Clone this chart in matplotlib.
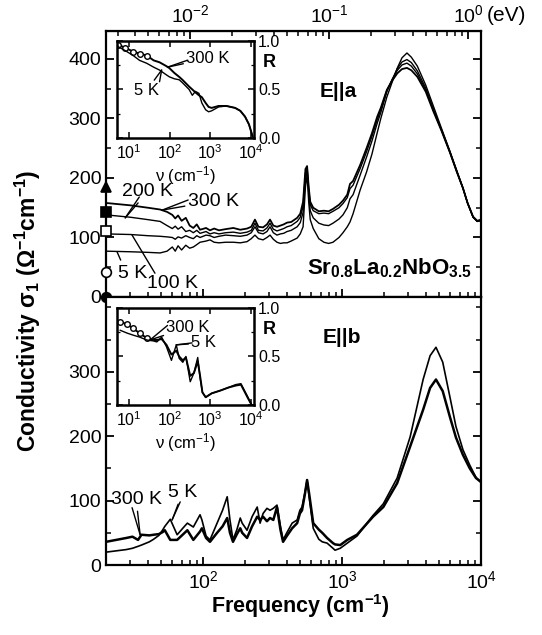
"""Optical conductivity of Sr0.8La0.2NbO3.5 for E||a and E||b, with reflectivity insets."""
import matplotlib
matplotlib.use("Agg")
import matplotlib.pyplot as plt
import numpy as np
from matplotlib.ticker import LogLocator, MultipleLocator, NullFormatter, FixedLocator

plt.rcParams['font.family'] = ['Liberation Sans', 'DejaVu Sans']
plt.rcParams['mathtext.default'] = 'regular'

# ---- E||a conductivity (cm^-1, Ohm^-1 cm^-1) ----
freq_a = [20, 30, 40, 49, 55, 60, 63, 66, 70, 75, 80, 85, 90, 95, 105, 112, 120, 130,
          145, 165, 185, 207, 222, 236, 250, 270, 288, 303, 320, 340, 360, 380, 402,
          430, 475, 500, 524, 545, 560, 575, 590, 620, 680, 740, 800, 860, 950, 1015,
          1090, 1140, 1200, 1350, 1500, 1640, 1790, 1900, 2100, 2300, 2500, 2700, 2930,
          3150, 3480, 4000, 4520, 5200, 5970, 6700, 7410, 8000, 8770, 9400, 10000]
sig_a_300 = [158, 154, 150, 147, 143, 138, 132, 137, 128, 133, 120, 116, 122, 113, 116,
             112, 115, 112, 114, 116, 113, 115, 118, 130, 118, 117, 122, 130, 120, 118,
             120, 122, 125, 126, 133, 140, 160, 215, 220, 185, 160, 150, 144, 145, 144,
             148, 155, 162, 172, 190, 195, 222, 250, 275, 303, 318, 348, 364, 376, 383,
             385, 381, 370, 345, 313, 279, 243, 210, 183, 158, 135, 128, 130]
sig_a_200 = [138, 134, 130, 127, 120, 115, 119, 114, 118, 110, 112, 108, 112, 107, 110,
             106, 108, 106, 108, 109, 107, 109, 112, 124, 112, 111, 116, 124, 114, 111,
             113, 115, 118, 120, 127, 134, 153, 208, 218, 182, 155, 145, 140, 141, 140,
             144, 150, 157, 167, 182, 188, 216, 244, 270, 298, 315, 347, 366, 381, 390,
             393, 388, 375, 348, 315, 280, 243, 210, 183, 158, 134, 127, 130]
sig_a_100 = [106, 105, 103, 102, 101, 100, 97, 101, 99, 103, 100, 98, 103, 100, 104,
             103, 100, 102, 104, 103, 102, 104, 108, 118, 108, 106, 110, 118, 108, 104,
             106, 107, 110, 112, 118, 125, 142, 200, 212, 175, 145, 133, 124, 121, 120,
             124, 131, 138, 150, 165, 172, 205, 235, 262, 292, 310, 345, 366, 384, 395,
             399, 394, 380, 351, 317, 281, 244, 211, 183, 158, 134, 127, 129]
sig_a_5 = [77, 76, 75, 74, 77, 84, 77, 86, 79, 87, 82, 84, 88, 92, 94, 96, 92, 91, 92,
           92, 91, 93, 98, 104, 98, 96, 100, 104, 97, 92, 90, 91, 91, 94, 99, 106, 118,
           185, 205, 160, 130, 115, 98, 92, 90, 92, 100, 108, 118, 126, 140, 180, 210,
           240, 276, 300, 336, 362, 385, 402, 410, 403, 388, 356, 322, 283, 245, 212,
           183, 158, 134, 127, 128]
# dc values shown on the left axis
dc_values = [185, 143, 111, 42, 0]
dc_markers = ['^', 's', 's', 'o', 'o']
dc_faces = ['black', 'black', 'white', 'white', 'black']

# ---- E||b conductivity ----
freq_b = [20, 28, 31, 34, 36, 41, 44, 48, 51, 53, 58, 65, 72, 77, 85, 95, 98, 105, 112,
          126, 138, 149, 156, 164, 175, 185, 191, 207, 225, 245, 257, 270, 288, 303, 320,
          340, 360, 376, 400, 437, 475, 497, 515, 540, 560, 580, 620, 680, 720, 780, 860,
          890, 970, 1090, 1280, 1670, 1980, 2490, 3090, 3830, 4300, 4740, 5300, 5970,
          6600, 7410, 8300, 9200, 10000]
sig_b_300 = [36, 42, 44, 39, 47, 46, 47, 48, 51, 54, 39, 39, 48, 54, 39, 52, 57, 42, 36,
             50, 60, 73, 50, 36, 48, 57, 50, 42, 60, 75, 70, 75, 68, 73, 70, 90, 55, 36,
             45, 57, 65, 80, 85, 110, 132, 110, 65, 55, 50, 42, 34, 32, 31, 39, 47, 75,
             90, 127, 184, 241, 275, 288, 270, 230, 198, 171, 150, 135, 129]
sig_b_5 = [20, 24, 26, 29, 31, 36, 40, 46, 54, 60, 71, 47, 58, 65, 59, 78, 70, 45, 39,
           65, 85, 106, 70, 39, 55, 73, 65, 54, 75, 90, 65, 80, 88, 85, 88, 93, 60, 39,
           50, 65, 70, 85, 90, 112, 132, 105, 57, 40, 36, 34, 26, 23, 26, 34, 45, 77, 95,
           135, 199, 288, 325, 338, 315, 261, 215, 179, 155, 136, 128]

# ---- reflectivity insets ----
nu_ra = [5.4, 8, 12.5, 18, 27, 40, 56, 83, 98, 130, 171, 205, 300, 360, 430, 525, 620,
         770, 910, 1080, 1600, 2500, 4100, 5500, 7200, 9000, 11000]
r_a_300 = [0.96, 0.93, 0.89, 0.87, 0.85, 0.80, 0.78, 0.74, 0.72, 0.67, 0.63, 0.60, 0.53,
           0.50, 0.47, 0.44, 0.42, 0.36, 0.32, 0.31, 0.33, 0.33, 0.31, 0.28, 0.22, 0.14,
           0.02]
r_a_5 = [0.94, 0.90, 0.85, 0.80, 0.77, 0.73, 0.70, 0.65, 0.63, 0.61, 0.60, 0.57, 0.50,
         0.44, 0.48, 0.46, 0.36, 0.29, 0.27, 0.28, 0.32, 0.33, 0.31, 0.28, 0.22, 0.14,
         0.02]
nu_rb = [6, 9, 12.5, 18, 27, 40, 48, 63, 83, 110, 145, 171, 210, 250, 320, 395, 490, 560,
         640, 770, 1080, 1800, 2800, 4200, 5700, 8500, 10500]
r_b_300 = [0.86, 0.83, 0.79, 0.74, 0.69, 0.67, 0.67, 0.68, 0.62, 0.52, 0.56, 0.50, 0.46,
           0.49, 0.30, 0.33, 0.45, 0.30, 0.13, 0.08, 0.12, 0.15, 0.18, 0.20, 0.21, 0.07,
           0.0]
r_b_5 = [0.77, 0.74, 0.72, 0.70, 0.67, 0.66, 0.65, 0.70, 0.60, 0.46, 0.62, 0.48, 0.44,
         0.50, 0.24, 0.33, 0.49, 0.28, 0.13, 0.08, 0.12, 0.15, 0.18, 0.21, 0.22, 0.08, 0.0]

CM_PER_EV = 8065.54
LW_SPINE = 1.6


def style_main(ax, ymax, yticks):
    ax.set_xscale('log')
    ax.set_xlim(20, 1e4)
    ax.set_ylim(0, ymax)
    ax.yaxis.set_major_locator(FixedLocator(yticks))
    ax.yaxis.set_minor_locator(MultipleLocator(50))
    ax.xaxis.set_major_locator(FixedLocator([100, 1000, 10000]))
    ax.xaxis.set_minor_locator(LogLocator(base=10, subs=np.arange(2, 10)))
    ax.xaxis.set_minor_formatter(NullFormatter())
    ax.set_xticklabels([r'10$^2$', r'10$^3$', r'10$^4$'])
    ax.tick_params(which='both', direction='in', right=True, labelsize=14)
    ax.tick_params(which='major', length=6, width=1.3)
    ax.tick_params(which='minor', length=3.5, width=1.1)
    for s in ax.spines.values():
        s.set_linewidth(LW_SPINE)


def style_inset(ax):
    ax.set_xscale('log')
    ax.set_xlim(5, 1.2e4)
    ax.set_ylim(0, 1.0)
    ax.xaxis.set_major_locator(FixedLocator([10, 100, 1000, 10000]))
    ax.xaxis.set_minor_locator(LogLocator(base=10, subs=np.arange(2, 10)))
    ax.xaxis.set_minor_formatter(NullFormatter())
    ax.set_xticklabels([r'10$^1$', r'10$^2$', r'10$^3$', r'10$^4$'])
    ax.yaxis.set_major_locator(FixedLocator([0, 0.5, 1.0]))
    ax.yaxis.set_minor_locator(MultipleLocator(0.25))
    ax.set_yticklabels(['0.0', '0.5', '1.0'])
    ax.yaxis.tick_right()
    ax.tick_params(which='both', direction='in', left=True, right=True, top=True,
                   labelsize=11.5)
    ax.tick_params(axis='x', pad=4)
    ax.tick_params(axis='y', pad=3)
    ax.tick_params(which='major', length=4, width=1.1)
    ax.tick_params(which='minor', length=2, width=0.9)
    for s in ax.spines.values():
        s.set_linewidth(1.8)
    ax.set_xlabel(r'$\nu$ (cm$^{-1}$)', fontsize=12, labelpad=1)
    ax.text(1.06, 0.78, 'R', transform=ax.transAxes, fontsize=13, fontweight='bold',
            ha='left', va='center')


fig = plt.figure(figsize=(5.42, 6.35), dpi=100)
ax_a = fig.add_axes([0.1956, 0.5323, 0.6919, 0.4189])
ax_b = fig.add_axes([0.1956, 0.1102, 0.6919, 0.4220])

# ---- panel E||a ----
style_main(ax_a, 447, [0, 100, 200, 300, 400])
ax_a.tick_params(which='both', top=False, labelbottom=False)
ax_a.plot(freq_a, sig_a_300, color='black', lw=1.3)
ax_a.plot(freq_a, sig_a_200, color='black', lw=1.0)
ax_a.plot(freq_a, sig_a_100, color='black', lw=1.0)
ax_a.plot(freq_a, sig_a_5, color='black', lw=1.0)
for val, mk, fc in zip(dc_values, dc_markers, dc_faces):
    ax_a.plot([20], [val], marker=mk, ms=7, mfc=fc, mec='black', mew=1.2,
              clip_on=False, zorder=5)

ev_ax = ax_a.secondary_xaxis('top', functions=(lambda x: x / CM_PER_EV,
                                               lambda e: e * CM_PER_EV))
ev_ax.xaxis.set_major_locator(FixedLocator([1e-2, 1e-1, 1e0]))
ev_ax.xaxis.set_minor_locator(LogLocator(base=10, subs=np.arange(2, 10)))
ev_ax.xaxis.set_minor_formatter(NullFormatter())
ev_ax.set_xticklabels([r'10$^{-2}$', r'10$^{-1}$', r'10$^0$'])
ev_ax.tick_params(which='both', direction='in', labelsize=14)
ev_ax.tick_params(which='major', length=6, width=1.3)
ev_ax.tick_params(which='minor', length=3.5, width=1.1)
fig.text(0.935, 0.976, '(eV)', fontsize=15, ha='center', va='center')

kw_lead = dict(arrowprops=dict(arrowstyle='-', lw=1.0, color='black',
                               shrinkA=0, shrinkB=0),
               fontsize=14, ha='center', va='center')
ax_a.annotate('200 K', xy=(27.5, 133), xytext=(40, 177), **kw_lead)
ax_a.annotate('', xy=(27.5, 133), xytext=(34.7, 168), **kw_lead)
ax_a.annotate('300 K', xy=(50.7, 146), xytext=(118, 161), **kw_lead)
ax_a.annotate('', xy=(50.7, 146), xytext=(78, 163), **kw_lead)
ax_a.text(31.3, 40, '5 K', fontsize=14, ha='center', va='center')
ax_a.annotate('', xy=(24, 76), xytext=(25.5, 62), **kw_lead)
ax_a.text(60, 23, '100 K', fontsize=14, ha='center', va='center')
ax_a.annotate('', xy=(30.8, 104), xytext=(45, 40), **kw_lead)

ax_a.text(690, 345, 'E||a', fontsize=15, fontweight='bold', ha='left', va='center')
ax_a.text(560, 38, r'Sr$_{0.8}$La$_{0.2}$NbO$_{3.5}$', fontsize=16, fontweight='bold',
          ha='left', va='baseline')

# ---- panel E||b ----
style_main(ax_b, 416, [0, 100, 200, 300])
ax_b.plot(freq_b, sig_b_300, color='black', lw=1.8)
ax_b.plot(freq_b, sig_b_5, color='black', lw=1.2)
ax_b.annotate('300 K', xy=(35.2, 47), xytext=(33, 101), **kw_lead)
ax_b.annotate('', xy=(35.2, 47), xytext=(30.8, 89), **kw_lead)
ax_b.annotate('5 K', xy=(59.8, 70), xytext=(71, 112), **kw_lead)
ax_b.annotate('', xy=(59.8, 70), xytext=(68.4, 98), **kw_lead)
ax_b.text(720, 353, 'E||b', fontsize=15, fontweight='bold', ha='left', va='center')

# ---- insets ----
in_a = fig.add_axes([0.2159, 0.7827, 0.2528, 0.1528])
style_inset(in_a)
in_a.plot(nu_ra, r_a_300, color='black', lw=1.4, marker='o', ms=4, mfc='white',
          markevery=[0, 1, 2, 3, 4])
in_a.plot(nu_ra, r_a_5, color='black', lw=1.0)
kw_in = dict(arrowprops=dict(arrowstyle='-', lw=1.0, color='black',
                             shrinkA=0, shrinkB=0),
             fontsize=12, ha='center', va='center')
in_a.annotate('300 K', xy=(88, 0.73), xytext=(870, 0.82), **kw_in)
in_a.annotate('', xy=(88, 0.73), xytext=(268, 0.80), **kw_in)
in_a.annotate('5 K', xy=(63, 0.70), xytext=(27, 0.49), **kw_in)
in_a.annotate('', xy=(63, 0.70), xytext=(56, 0.58), **kw_in)

in_b = fig.add_axes([0.2159, 0.3622, 0.2528, 0.1528])
style_inset(in_b)
in_b.plot(nu_rb, r_b_300, color='black', lw=1.4, marker='o', ms=4, mfc='white',
          markevery=[0, 1, 2, 3, 4])
in_b.plot(nu_rb, r_b_5, color='black', lw=1.0)
in_b.annotate('300 K', xy=(32.6, 0.67), xytext=(283, 0.80), **kw_in)
in_b.annotate('', xy=(32.6, 0.67), xytext=(88, 0.82), **kw_in)
in_b.annotate('5 K', xy=(145, 0.62), xytext=(690, 0.64), **kw_in)
in_b.annotate('', xy=(145, 0.62), xytext=(356, 0.64), **kw_in)

fig.text(0.052, 0.51, r'Conductivity $\sigma_1$ ($\Omega^{-1}$cm$^{-1}$)', rotation=90,
         fontsize=16.5, fontweight='bold', ha='center', va='center')
fig.text(0.555, 0.045, r'Frequency (cm$^{-1}$)', fontsize=15.5, fontweight='bold',
         ha='center', va='center')

fig.savefig('out.png', dpi=100)
